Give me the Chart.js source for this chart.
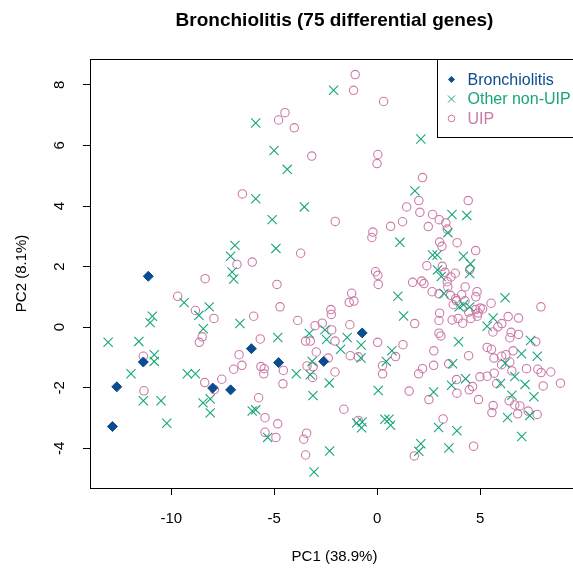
<!DOCTYPE html>
<html lang="en">
<head>
<meta charset="UTF-8">
<meta name="viewport" content="width=device-width">
<script src="https://cdn.jsdelivr.net/npm/chart.js@4.4.0/dist/chart.umd.min.js"></script>
<title>Bronchiolitis PCA</title>
<style>
    html, body {
        margin: 0;
        padding: 0;
        background: #ffffff;
        overflow: hidden;
    }
    /* plot runs a little past the right edge, like the original export */
    .chart-container {
        position: relative;
        width: 600px;
        height: 569px;
    }
</style>
</head>
<body>
<div class="chart-container">
    <canvas id="myChart"></canvas>
</div>

<script>
const chartTitle = 'Bronchiolitis (75 differential genes)';
const xTitle = 'PC1 (38.9%)';
const yTitle = 'PC2 (8.1%)';
const groupNames = ['Bronchiolitis', 'Other non-UIP', 'UIP'];
const groupColors = ['#0b4c8f', '#16a67a', '#cc79a7'];

const xTicks = [-10, -5, 0, 5, 10];
const yTicks = [-4, -2, 0, 2, 4, 6, 8];

// [PC1, PC2]
const bronchiolitisPts = [
    [-11.12, 1.68], [-6.11, -0.71], [-0.73, -0.19], [-11.36, -1.15], [-4.79, -1.17],
    [-2.60, -1.13], [-12.65, -1.97], [-7.99, -2.01], [-7.12, -2.07], [-12.86, -3.28]
];

const otherPts = [
    [-2.12, 7.82], [-5.90, 6.74], [-5.01, 5.83], [-4.37, 5.21], [-5.90, 4.24], [2.12, 6.21], [1.83, 4.50],
    [-6.91, 2.70], [-7.12, 2.34], [-7.05, 1.82], [-6.97, 1.59], [-9.38, 0.81], [-8.66, 0.39], [-8.16, 0.67],
    [-10.92, 0.36], [-11.03, 0.15], [-6.67, 0.12], [-8.45, -0.05], [-13.07, -0.50], [-11.58, -0.47],
    [-3.54, 3.97], [-5.10, 3.55], [1.10, 2.80], [-4.92, 2.60], [1.00, 1.02], [1.28, 0.37], [-3.30, -0.21],
    [-2.54, -0.09], [-1.46, -0.34], [-4.83, -0.34], [-2.46, -0.41], [-0.78, -0.59],
    [3.63, 3.72], [4.35, 3.69], [3.43, 3.12], [2.69, 2.38], [2.91, 2.38], [4.19, 2.34], [4.53, 2.09],
    [2.93, 1.89], [4.49, 1.77], [3.11, 1.67], [3.24, 1.11], [6.21, 0.97], [3.98, 0.67], [4.19, 0.74],
    [4.49, 0.67], [5.63, 0.30], [5.34, 0.03], [7.45, -0.44], [3.95, -0.48],
    [-10.83, -0.91], [-10.83, -1.13], [-11.96, -1.54], [-9.22, -1.54], [-8.83, -1.54], [-11.36, -2.43],
    [-10.50, -2.43], [-8.11, -2.37], [-8.46, -2.50], [-8.11, -2.83], [-10.22, -3.17],
    [-1.78, -0.73], [0.71, -0.78], [-3.16, -1.13], [-3.25, -1.57], [-0.79, -1.02], [0.44, -1.13],
    [-3.93, -1.54], [-2.33, -1.84], [-3.12, -2.26], [0.05, -2.09], [-6.07, -2.77], [-5.90, -2.73],
    [-1.00, -3.16], [-0.76, -3.32], [-0.73, -3.13], [0.37, -3.04], [0.57, -3.04], [0.65, -3.24],
    [-5.32, -3.64], [-2.31, -4.09], [-3.07, -4.78],
    [7.01, -0.88], [7.77, -0.96], [6.21, -1.19], [3.66, -1.21], [6.68, -1.63], [7.18, -1.89], [5.99, -1.86],
    [4.29, -1.70], [3.61, -1.92], [2.74, -2.14], [6.54, -2.25], [7.61, -2.30], [7.41, -2.92], [6.33, -2.98],
    [2.98, -3.31], [3.87, -3.42], [7.02, -3.61], [2.12, -3.85], [2.02, -4.10], [3.48, -3.99]
];

const uipPts = [
    [-6.55, 4.40], [-1.07, 8.34], [-1.15, 7.82], [0.31, 7.45], [-4.48, 7.08], [-4.79, 6.84], [-4.03, 6.58],
    [-3.18, 5.65], [0.03, 5.70], [-0.01, 5.40], [2.20, 4.94], [2.02, 4.18], [4.42, 4.18],
    [-6.81, 2.07], [-8.36, 1.60], [-9.69, 1.02], [-8.83, 0.55], [-7.93, 0.29], [-8.50, -0.32], [-8.64, -0.50],
    [-2.04, 3.49], [0.65, 3.33], [1.23, 3.48], [-0.21, 3.14], [-0.26, 2.96], [-3.72, 2.44], [-6.07, 2.15],
    [-0.08, 1.83], [0.03, 1.71], [0.05, 1.41], [-4.87, 1.41], [-1.24, 1.12], [-1.36, 0.82], [-1.13, 0.86],
    [-4.72, 0.67], [-6.00, 0.36], [-2.25, 0.58], [-2.23, 0.42], [-3.86, 0.22], [-3.02, 0.05], [-2.67, 0.13],
    [-2.21, -0.09], [-1.33, 0.08], [-5.68, -0.39], [-3.48, -0.46], [-3.25, -0.46], [-2.05, -0.46],
    [0.02, -0.50], [1.25, -0.58],
    [1.43, 3.97], [2.07, 3.79], [2.69, 3.72], [3.01, 3.55], [3.33, 3.44], [2.48, 3.32], [3.40, 3.24],
    [3.03, 2.81], [3.14, 2.67], [3.88, 2.79], [4.78, 2.53], [2.41, 2.03], [3.16, 2.01], [3.29, 1.81],
    [4.49, 1.90], [3.58, 1.66], [3.79, 1.78], [3.40, 1.50], [1.72, 1.48], [2.16, 1.52], [2.27, 1.44],
    [3.43, 1.33], [4.27, 1.33], [4.85, 1.17], [2.67, 1.17], [3.00, 1.10], [3.56, 1.05], [4.10, 1.07],
    [4.79, 1.00], [3.81, 0.94], [3.85, 0.87], [4.26, 0.87], [3.69, 0.74], [5.53, 0.79], [7.95, 0.67],
    [4.78, 0.58], [5.00, 0.63], [5.12, 0.60], [4.90, 0.47], [4.44, 0.50], [3.03, 0.46], [4.86, 0.36],
    [4.55, 0.29], [3.93, 0.29], [3.64, 0.24], [3.00, 0.22], [4.15, 0.13], [6.36, 0.35], [6.86, 0.30],
    [1.82, 0.12], [6.05, 0.12], [5.86, 0.01], [5.62, -0.16], [3.00, -0.20], [3.09, -0.29], [6.50, -0.17],
    [6.86, -0.24], [6.44, -0.35], [7.70, -0.48],
    [-11.36, -0.96], [-6.71, -0.91], [-6.57, -1.26], [-6.97, -1.39], [-7.55, -1.72], [-8.38, -1.83],
    [-7.91, -2.06], [-11.33, -2.10],
    [-2.96, -0.82], [-2.38, -1.02], [-3.41, -1.28], [-3.11, -1.31], [-3.14, -1.66], [-1.31, -0.94],
    [-0.92, -0.98], [0.89, -0.97], [0.26, -1.27], [0.26, -1.54], [-5.65, -1.30], [-5.49, -1.37],
    [-5.51, -1.54], [-4.56, -1.43], [-4.58, -1.87], [-2.05, -1.48], [-5.76, -2.33], [-1.62, -2.71],
    [-0.92, -3.08], [-5.45, -2.99], [-4.83, -3.19], [-5.45, -3.47], [-4.92, -3.64], [-3.43, -3.50],
    [-3.57, -3.70], [-3.48, -4.22],
    [2.75, -0.78], [5.34, -0.67], [5.55, -0.73], [6.60, -0.78], [4.44, -0.94], [5.67, -1.02], [6.04, -0.96],
    [6.25, -0.91], [6.44, -1.15], [6.04, -1.24], [2.20, -1.37], [2.01, -1.54], [2.74, -1.26], [3.47, -1.21],
    [7.25, -1.37], [7.80, -1.39], [7.96, -1.50], [8.43, -1.48], [6.54, -1.44], [5.68, -1.52], [5.34, -1.62],
    [4.99, -1.64], [8.90, -1.85], [8.06, -1.94], [5.80, -1.86], [4.63, -1.96], [4.47, -2.07], [3.85, -1.73],
    [3.87, -2.18], [1.55, -2.11], [2.51, -2.39], [4.92, -2.39], [6.41, -2.43], [6.68, -2.57], [6.93, -2.60],
    [5.63, -2.59], [5.57, -2.82], [6.82, -2.86], [7.33, -2.77], [7.77, -2.88], [3.20, -3.03], [1.80, -4.25],
    [4.68, -3.93]
];

const fontFamily = '"Liberation Sans", Arial, Helvetica, sans-serif';
Chart.defaults.font.family = fontFamily;
Chart.defaults.color = '#000000';

const toXY = pts => pts.map(p => ({ x: p[0], y: p[1] }));

// R style box, rotated y labels and the top-right legend
const rStylePlugin = {
    id: 'rStyle',
    afterDraw(chart) {
        const ctx = chart.ctx;
        const area = chart.chartArea;
        const ys = chart.scales.y;
        ctx.save();

        ctx.strokeStyle = '#000000';
        ctx.lineWidth = 1;
        ctx.strokeRect(Math.round(area.left) + 0.5, Math.round(area.top) + 0.5,
                       Math.round(area.right - area.left), Math.round(area.bottom - area.top));

        ctx.fillStyle = '#000000';
        ctx.font = '15px ' + fontFamily;
        ctx.textAlign = 'center';
        ctx.textBaseline = 'middle';
        yTicks.forEach(v => {
            if (v < ys.min || v > ys.max) return;
            const py = ys.getPixelForValue(v);
            ctx.save();
            ctx.translate(area.left - 30, py);
            ctx.rotate(-Math.PI / 2);
            ctx.fillText(String(v), 0, 0);
            ctx.restore();
        });

        // legend
        const lw = 142, lh = 78;
        const lx = Math.round(area.right - lw) + 0.5;
        const ly = Math.round(area.top) + 0.5;
        ctx.fillStyle = '#ffffff';
        ctx.fillRect(lx, ly, lw, lh);
        ctx.strokeStyle = '#000000';
        ctx.strokeRect(lx, ly, lw, lh);

        ctx.font = '16px ' + fontFamily;
        ctx.textAlign = 'left';
        groupNames.forEach((name, i) => {
            const cy = ly + 20 + i * 19.5;
            const cx = lx + 14;
            const col = groupColors[i];
            ctx.fillStyle = col;
            ctx.strokeStyle = col;
            ctx.lineWidth = 1;
            ctx.beginPath();
            if (i === 0) {
                ctx.moveTo(cx, cy - 3.5);
                ctx.lineTo(cx + 3.5, cy);
                ctx.lineTo(cx, cy + 3.5);
                ctx.lineTo(cx - 3.5, cy);
                ctx.closePath();
                ctx.fill();
            } else if (i === 1) {
                ctx.moveTo(cx - 3.5, cy - 3.5);
                ctx.lineTo(cx + 3.5, cy + 3.5);
                ctx.moveTo(cx - 3.5, cy + 3.5);
                ctx.lineTo(cx + 3.5, cy - 3.5);
                ctx.stroke();
            } else {
                ctx.arc(cx, cy, 3.3, 0, Math.PI * 2);
                ctx.stroke();
            }
            ctx.fillText(name, lx + 30, cy + 1);
        });

        ctx.restore();
    }
};

const data = {
    datasets: [
        {
            label: groupNames[0],
            data: toXY(bronchiolitisPts),
            pointStyle: 'rectRot',
            pointRadius: 5,
            backgroundColor: groupColors[0],
            borderColor: groupColors[0],
            borderWidth: 1
        },
        {
            label: groupNames[1],
            data: toXY(otherPts),
            pointStyle: 'crossRot',
            pointRadius: 6.5,
            backgroundColor: groupColors[1],
            borderColor: groupColors[1],
            borderWidth: 1.1
        },
        {
            label: groupNames[2],
            data: toXY(uipPts),
            pointStyle: 'circle',
            pointRadius: 4.2,
            backgroundColor: 'rgba(0,0,0,0)',
            borderColor: groupColors[2],
            borderWidth: 1.1
        }
    ]
};

const tickGrid = {
    display: true,
    drawOnChartArea: false,
    drawTicks: true,
    tickLength: 7,
    color: '#000000',
    lineWidth: 1
};

const options = {
    responsive: true,
    maintainAspectRatio: false,
    animation: false,
    layout: {
        padding: { left: 0, right: 21, top: 0, bottom: 0 }
    },
    plugins: {
        legend: { display: false },
        tooltip: { enabled: false },
        title: {
            display: true,
            text: chartTitle,
            fullSize: false,
            color: '#000000',
            font: { size: 19, weight: 'bold', lineHeight: 1.2 },
            padding: { top: 9, bottom: 27 }
        }
    },
    scales: {
        x: {
            type: 'linear',
            min: -13.95,
            max: 9.8,
            afterBuildTicks: s => {
                s.ticks = xTicks.filter(v => v >= s.min && v <= s.max).map(v => ({ value: v }));
            },
            afterFit: s => { s.height = 81; },
            grid: tickGrid,
            border: { display: false },
            ticks: {
                color: '#000000',
                font: { size: 15 },
                padding: 15,
                maxRotation: 0,
                callback: v => String(v)
            },
            title: {
                display: true,
                text: xTitle,
                color: '#000000',
                font: { size: 15, lineHeight: 1.2 },
                padding: { top: 0, bottom: 3 }
            }
        },
        y: {
            type: 'linear',
            min: -5.31,
            max: 8.86,
            afterBuildTicks: s => {
                s.ticks = yTicks.filter(v => v >= s.min && v <= s.max).map(v => ({ value: v }));
            },
            afterFit: s => { s.width = 90; },
            grid: tickGrid,
            border: { display: false },
            ticks: { display: false },
            title: {
                display: true,
                text: yTitle,
                color: '#000000',
                font: { size: 15, lineHeight: 1.2 },
                padding: { top: 13, bottom: 0 }
            }
        }
    }
};

const config = {
    type: 'scatter',
    data: data,
    options: options,
    plugins: [rStylePlugin]
};

var myChart = new Chart(document.getElementById('myChart'), config);
</script>
</body>
</html>
